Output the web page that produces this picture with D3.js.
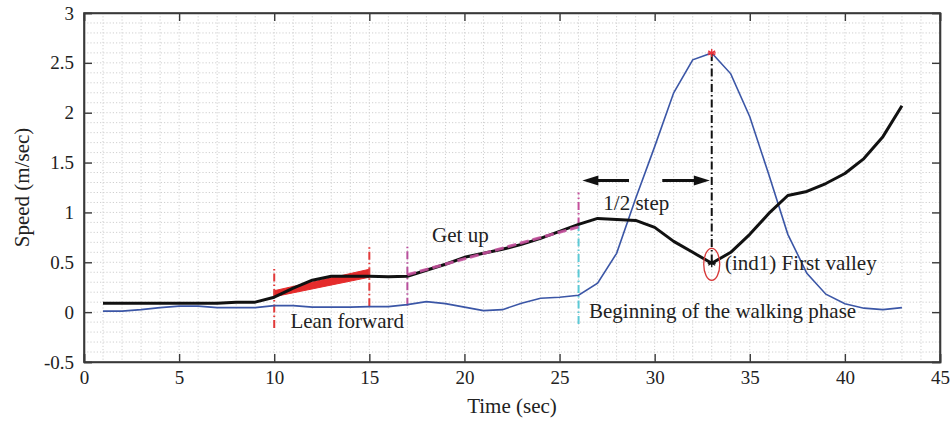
<!DOCTYPE html>
<html>
<head>
<meta charset="utf-8">
<script src="https://cdn.jsdelivr.net/npm/d3@7"></script>
<style>
  html, body { margin: 0; padding: 0; background: #fff; }
  svg text { font-family: "Liberation Serif", "DejaVu Serif", serif; fill: #222; }
</style>
</head>
<body>
<svg id="chart" width="950" height="424"></svg>
<script>
// Time axis samples (sec)
const timeSec = [1,2,3,4,5,6,7,8,9,10,11,12,13,14,15,16,17,18,19,20,21,22,23,24,25,26,27,28,29,30,31,32,33,34,35,36,37,38,39,40,41,42,43];

// Smoothed body speed (m/sec), thick black trace
const bodySpeed = [0.09,0.09,0.09,0.09,0.09,0.09,0.09,0.10,0.10,0.15,0.24,0.32,0.36,0.36,0.36,0.355,0.36,0.42,0.48,0.55,0.59,0.63,0.68,0.74,0.81,0.88,0.94,0.93,0.92,0.85,0.71,0.60,0.49,0.60,0.78,0.99,1.17,1.21,1.29,1.39,1.54,1.76,2.07];

// Step speed (m/sec), thin blue trace
const stepSpeed = [0.01,0.01,0.025,0.045,0.06,0.06,0.045,0.045,0.045,0.065,0.065,0.05,0.05,0.05,0.055,0.055,0.075,0.105,0.085,0.05,0.015,0.025,0.09,0.14,0.15,0.17,0.29,0.59,1.14,1.66,2.20,2.53,2.60,2.39,1.96,1.38,0.78,0.39,0.18,0.085,0.04,0.025,0.045];

// Axis ticks
const xTicks = [0,5,10,15,20,25,30,35,40,45];
const yTicks = [-0.5,0,0.5,1,1.5,2,2.5,3];
const yTickLabels = ["-0.5","0","0.5","1","1.5","2","2.5","3"];

// Phase boundaries: [time, low speed, high speed]
const leanStart = [10, -0.16, 0.44];
const leanEnd = [15, 0.06, 0.66];
const getUpStart = [17, 0.065, 0.665];
const getUpEnd = [26, 0.87, 1.2];
const walkStart = [26, -0.12, 0.87];

// Lean-forward trend band: [time, lower, upper]
const leanBand = [[10, 0.155, 0.215], [15, 0.35, 0.43]];
// Get-up trend line: [time, speed]
const getUpTrend = [[17, 0.375], [26, 0.855]];
// Half-step arrows: [from time, to time, speed]
const halfStepArrows = [[28.65, 26.2, 1.32], [30.4, 32.9, 1.32]];

const svg = d3.select("#chart");
const margin = { left: 84, right: 10, top: 13, bottom: 62 };
const W = 950, H = 424;
const x = d3.scaleLinear().domain([0, 45]).range([margin.left, W - margin.right]);
const y = d3.scaleLinear().domain([-0.5, 3]).range([H - margin.bottom, margin.top]);
const [x0, x1] = x.range();
const [yb, yt] = y.range();

// Dotted grid
const grid = svg.append("g");
grid.selectAll("line.gx").data(d3.range(1, 45)).join("line")
  .attr("x1", d => x(d)).attr("x2", d => x(d)).attr("y1", yt).attr("y2", yb)
  .attr("stroke", "#cfcfcf").attr("stroke-width", 1).attr("stroke-dasharray", "1.2,2");
grid.selectAll("line.gy").data(d3.range(1, 35).map(i => -0.5 + i * 0.1)).join("line")
  .attr("y1", d => y(d)).attr("y2", d => y(d)).attr("x1", x0).attr("x2", x1)
  .attr("stroke", "#cfcfcf").attr("stroke-width", 1).attr("stroke-dasharray", "1.2,2");

// Axes with inward ticks on all four sides
const axisColor = "#3a3a3a";
const axBottom = svg.append("g").attr("transform", `translate(0,${yb})`)
  .call(d3.axisBottom(x).tickValues(xTicks).tickSize(-8).tickPadding(9).tickFormat(d3.format("d")));
const axTop = svg.append("g").attr("transform", `translate(0,${yt})`)
  .call(d3.axisTop(x).tickValues(xTicks).tickSize(-8).tickFormat(""));
const axLeft = svg.append("g").attr("transform", `translate(${x0},0)`)
  .call(d3.axisLeft(y).tickValues(yTicks).tickSize(-8).tickPadding(10).tickFormat((d, i) => yTickLabels[i]));
const axRight = svg.append("g").attr("transform", `translate(${x1},0)`)
  .call(d3.axisRight(y).tickValues(yTicks).tickSize(-8).tickFormat(""));
[axBottom, axTop, axLeft, axRight].forEach(g => {
  g.select(".domain").attr("stroke", axisColor).attr("stroke-width", 1.6);
  g.selectAll(".tick line").attr("stroke", axisColor).attr("stroke-width", 1.4);
  g.selectAll(".tick text").attr("font-size", 19).attr("font-family", "Liberation Serif, serif").attr("fill", "#222");
});
// close the box corners
svg.append("rect").attr("x", x0).attr("y", yt).attr("width", x1 - x0).attr("height", yb - yt)
  .attr("fill", "none").attr("stroke", axisColor).attr("stroke-width", 1.6);

// Axis titles
svg.append("text").attr("x", (x0 + x1) / 2).attr("y", 413).attr("text-anchor", "middle")
  .attr("font-size", 21).text("Time (sec)");
svg.append("text").attr("transform", `translate(29,${(yt + yb) / 2}) rotate(-90)`)
  .attr("text-anchor", "middle").attr("font-size", 21).text("Speed (m/sec)");

const plot = svg.append("g");
const lineGen = d3.line().x(d => x(d[0])).y(d => y(d[1]));

// Lean-forward trend band
plot.append("path")
  .attr("d", lineGen([[leanBand[0][0], leanBand[0][1]], [leanBand[1][0], leanBand[1][1]],
                      [leanBand[1][0], leanBand[1][2]], [leanBand[0][0], leanBand[0][2]]]) + "Z")
  .attr("fill", "#e52b2b").attr("stroke", "#e52b2b").attr("stroke-width", 1);

// Vertical phase markers
function vline(m, color, dash, width) {
  plot.append("line")
    .attr("x1", x(m[0])).attr("x2", x(m[0])).attr("y1", y(m[1])).attr("y2", y(m[2]))
    .attr("stroke", color).attr("stroke-width", width).attr("stroke-dasharray", dash);
}
vline(leanStart, "#e23a3a", "8,3,1.5,3", 2);
vline(leanEnd, "#e23a3a", "8,3,1.5,3", 2);
vline(getUpStart, "#b8509c", "8,3,1.5,3", 2);
vline(getUpEnd, "#c4509c", "8,3,1.5,3", 2);
vline(walkStart, "#5cc9d6", "8,3,1.5,3", 2);

// Traces
const stepPts = timeSec.map((t, i) => [t, stepSpeed[i]]);
const bodyPts = timeSec.map((t, i) => [t, bodySpeed[i]]);
plot.append("path").attr("d", lineGen(stepPts))
  .attr("fill", "none").attr("stroke", "#3b56a6").attr("stroke-width", 1.6);
plot.append("path").attr("d", lineGen(bodyPts))
  .attr("fill", "none").attr("stroke", "#111").attr("stroke-width", 3).attr("stroke-linejoin", "round");

// Get-up trend line, drawn over the body trace
plot.append("path").attr("d", lineGen(getUpTrend))
  .attr("fill", "none").attr("stroke", "#c4509c").attr("stroke-width", 3).attr("stroke-dasharray", "9,4")
  .attr("opacity", 0.9);

// Peak of the step speed and the body-speed valley beneath it
const peakIdx = d3.maxIndex(stepSpeed);
const tPeak = timeSec[peakIdx];
const vPeak = stepSpeed[peakIdx];
const vValley = bodySpeed[peakIdx];
plot.append("line").attr("x1", x(tPeak)).attr("x2", x(tPeak)).attr("y1", y(vPeak)).attr("y2", y(vValley))
  .attr("stroke", "#111").attr("stroke-width", 2).attr("stroke-dasharray", "8,3,1.5,3");

function asterisk(cx, cy, r, color) {
  const g = plot.append("g").attr("transform", `translate(${cx},${cy})`);
  [0, 60, 120].forEach(a => {
    const rad = a * Math.PI / 180;
    g.append("line").attr("x1", -r * Math.sin(rad)).attr("y1", -r * Math.cos(rad))
      .attr("x2", r * Math.sin(rad)).attr("y2", r * Math.cos(rad))
      .attr("stroke", color).attr("stroke-width", 1.3);
  });
  g.append("line").attr("x1", -r).attr("x2", r).attr("y1", 0).attr("y2", 0)
    .attr("stroke", color).attr("stroke-width", 1.3);
}
asterisk(x(tPeak), y(vPeak), 4, "#e8303a");
asterisk(x(tPeak), y(vValley), 4, "#111");
plot.append("ellipse").attr("cx", x(tPeak)).attr("cy", y(vValley) + 1)
  .attr("rx", 8).attr("ry", 16).attr("fill", "none").attr("stroke", "#d83a3a").attr("stroke-width", 1.3);

// Half-step arrows
halfStepArrows.forEach(([from, to, v]) => {
  const xa = x(from), xb = x(to), yy = y(v);
  const dir = Math.sign(xb - xa);
  const headLen = 16, headHalf = 5;
  plot.append("line").attr("x1", xa).attr("x2", xb - dir * headLen * 0.8).attr("y1", yy).attr("y2", yy)
    .attr("stroke", "#111").attr("stroke-width", 3.2);
  plot.append("path")
    .attr("d", `M${xb},${yy} L${xb - dir * headLen},${yy - headHalf} L${xb - dir * headLen},${yy + headHalf} Z`)
    .attr("fill", "#111");
});

// Annotation texts
const notes = [
  [10.85, -0.155, "Lean forward"],
  [18.3, 0.705, "Get up"],
  [27.3, 1.02, "1/2 step"],
  [33.7, 0.425, "(ind1) First valley"],
  [26.55, -0.06, "Beginning of the walking phase"]
];
plot.selectAll("text.note").data(notes).join("text")
  .attr("class", "note")
  .attr("x", d => x(d[0])).attr("y", d => y(d[1]))
  .attr("font-size", 21).text(d => d[2]);
</script>
</body>
</html>
